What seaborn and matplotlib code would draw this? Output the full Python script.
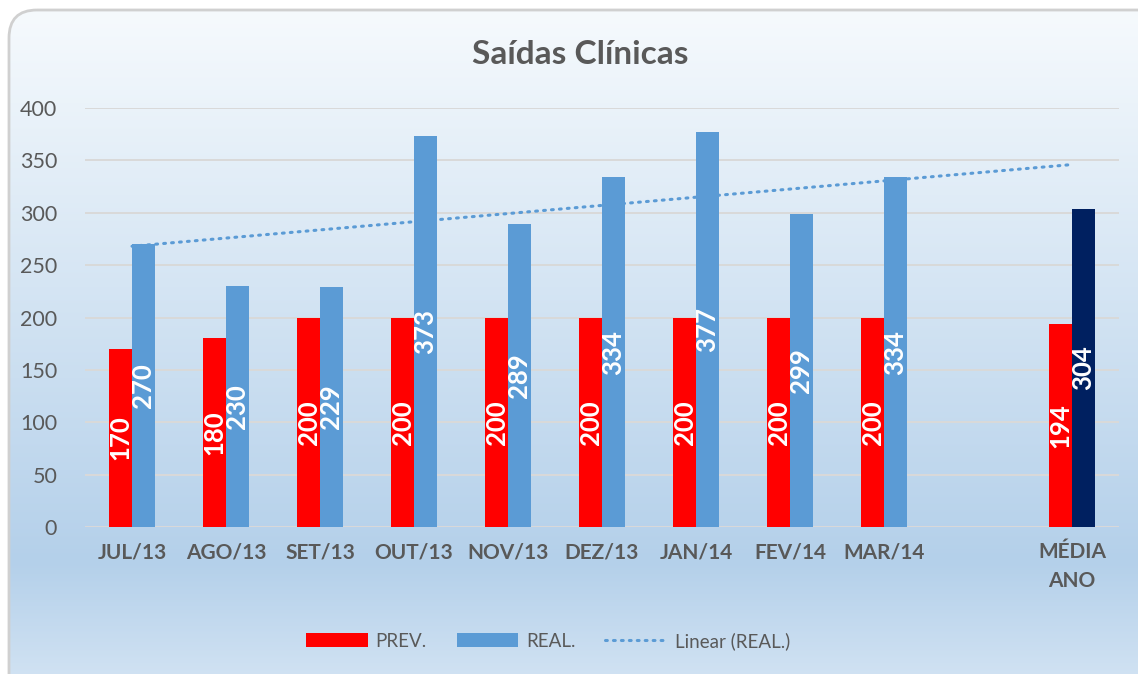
import matplotlib
matplotlib.use("Agg")
import matplotlib.pyplot as plt
from matplotlib.patches import FancyBboxPatch, Patch
from matplotlib.lines import Line2D
from matplotlib.colors import LinearSegmentedColormap
import numpy as np
import pandas as pd
import seaborn as sns

# dados do grafico
meses = ['JUL/13', 'AGO/13', 'SET/13', 'OUT/13', 'NOV/13', 'DEZ/13',
         'JAN/14', 'FEV/14', 'MAR/14', 'MÉDIA\nANO']
prev = [170, 180, 200, 200, 200, 200, 200, 200, 200, 194]
real = [270, 230, 229, 373, 289, 334, 377, 299, 334, 304]
# categoria vazia entre MAR/14 e MEDIA ANO
ordem = meses[:9] + [' '] + meses[9:]

sns.set_theme(style='white')
plt.rcParams['font.family'] = ['Lato', 'DejaVu Sans']

cinza = '#595959'
cor_prev = '#FF0000'
cor_real = '#5B9BD5'
cor_media = '#002060'

df = pd.DataFrame({
    'mes': meses * 2,
    'valor': prev + real,
    'serie': ['PREV.'] * len(prev) + ['REAL.'] * len(real),
})

W, H = 1138, 674
fig = plt.figure(figsize=(W / 100, H / 100), dpi=100)

# fundo com gradiente e cantos arredondados
bg = fig.add_axes([0, 0, 1, 1])
bg.set_xlim(0, W)
bg.set_ylim(H, 0)
bg.set_axis_off()
grad = LinearSegmentedColormap.from_list(
    'fundo', [(0, '#F6FAFD'), (0.82, '#B4D0EA'), (1, '#D2E3F3')])
img = bg.imshow(np.linspace(0, 1, 256).reshape(-1, 1), cmap=grad,
                extent=[9, W + 40, H + 10, 10], aspect='auto', zorder=0)
caixa = FancyBboxPatch((9, 10), W + 40, H + 40,
                       boxstyle='round,pad=0,rounding_size=28',
                       facecolor='none', edgecolor='#D0D0D0', lw=2, zorder=1)
bg.add_patch(caixa)
img.set_clip_path(caixa)

ax = fig.add_axes([85 / W, (H - 527) / H, (1119 - 85) / W, (527 - 108) / H])
ax.set_facecolor('none')

sns.barplot(data=df, x='mes', y='valor', hue='serie', order=ordem,
            hue_order=['PREV.', 'REAL.'],
            palette={'PREV.': cor_prev, 'REAL.': cor_real},
            saturation=1, width=0.48, legend=False, ax=ax, zorder=3,
            linewidth=0)

# barra da media em azul escuro
barras_real = ax.containers[1]
ultima = max(barras_real.patches, key=lambda p: p.get_x())
ultima.set_facecolor(cor_media)

for cont in ax.containers:
    ax.bar_label(cont, fmt='%.0f', label_type='center', rotation=90,
                 color='white', fontsize=18.5, fontweight='bold', zorder=5)

# linha de tendencia linear (REAL.)
xs = np.array([ordem.index(m) for m in meses])
coef = np.polyfit(xs, real, 1)
xt = np.array([xs.min(), xs.max()])
ax.plot(xt, np.polyval(coef, xt), color=cor_real, lw=2.2,
        linestyle=(0, (0.6, 2.0)), dash_capstyle='round', zorder=4)

ax.set_xlim(-0.5, len(ordem) - 0.5)
ax.set_ylim(0, 400)
ax.set_yticks(range(0, 401, 50))
ax.yaxis.grid(True, color='#D9D9D9', lw=1.4, zorder=0)
ax.set_axisbelow(True)
for s in ax.spines.values():
    s.set_visible(False)
ax.set_xlabel('')
ax.set_ylabel('')
ax.tick_params(axis='y', length=0, pad=20, labelsize=15.5, labelcolor=cinza)
ax.tick_params(axis='x', length=0, pad=11, labelsize=15, labelcolor=cinza)
for t in ax.get_xticklabels():
    t.set_fontweight('bold')
    t.set_linespacing(1.55)

fig.text(580 / W, 1 - 55 / H, 'Saídas Clínicas', ha='center', va='center',
         fontsize=24, fontweight='bold', color=cinza)

handles = [Patch(facecolor=cor_prev, edgecolor='none', label='PREV.'),
           Patch(facecolor=cor_real, edgecolor='none', label='REAL.'),
           Line2D([0], [0], color=cor_real, lw=2.2, linestyle=(0, (0.6, 2.0)),
                  dash_capstyle='round', label='Linear (REAL.)')]
fig.legend(handles=handles, loc='center', bbox_to_anchor=(548 / W, 1 - 641 / H),
           ncol=3, frameon=False, fontsize=13.5, labelcolor=cinza,
           handlelength=3.3, handleheight=0.78, columnspacing=1.6,
           handletextpad=0.4)

fig.savefig('out.png', dpi=100)
